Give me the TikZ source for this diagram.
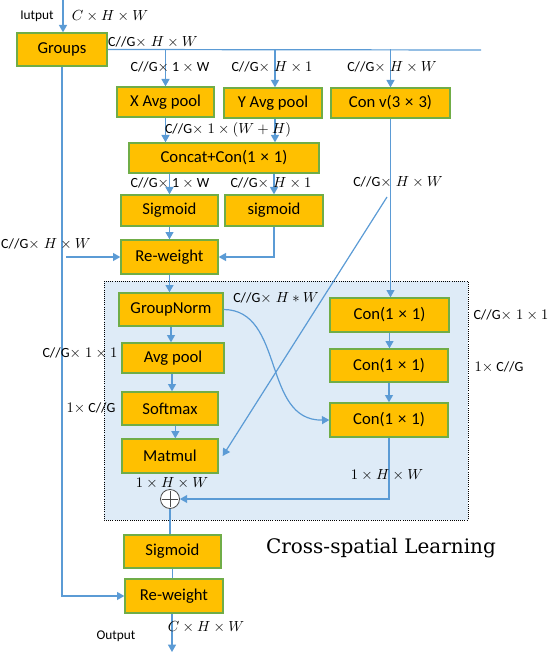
\documentclass[tikz,border=0pt]{standalone}
\usepackage{fontspec}
\newfontfamily\calb{Carlito}
\newfontfamily\titlefont{DejaVu Serif}
\usetikzlibrary{arrows.meta}
\definecolor{boxfill}{HTML}{FFC000}
\definecolor{boxline}{HTML}{70AD47}
\definecolor{wire}{HTML}{5B9BD5}
\definecolor{panel}{HTML}{DEEBF7}
\newcommand\xx{\hspace{0.3em}×\hspace{0.3em}}
\begin{document}
\begin{tikzpicture}[x=0.75pt,y=-0.75pt,
  box/.style={draw=boxline, line width=1pt, fill=boxfill, inner sep=0pt, font=\calb\fontsize{12.5}{14}\selectfont},
  lbl/.style={font=\calb\fontsize{10.5}{12}\selectfont, inner sep=0pt},
  io/.style={font=\calb\fontsize{10}{12}\selectfont, inner sep=0pt},
  wire/.style={draw=wire, line width=0.9pt},
  arr/.style={wire, -{Triangle[width=6pt,length=5.5pt]}}]
\useasboundingbox (0,0) rectangle (550,659);
% panel
\fill[panel] (104,281) rectangle (468,520);
\draw[densely dotted, line width=0.6pt] (104,281) rectangle (468,520);
% nodes
\node[box,minimum width=67.5pt,minimum height=24.75pt] (grp) at (62,49.5) {Groups};
\node[box,minimum width=72.75pt,minimum height=22.5pt] (xa) at (165.5,102) {X Avg pool};
\node[box,minimum width=73.5pt,minimum height=22.5pt] (ya) at (273,103) {Y Avg pool};
\node[box,minimum width=89.25pt,minimum height=22.5pt] (cv) at (390.5,103) {Con v(3\xx 3)};
\node[box,minimum width=142.5pt,minimum height=22.5pt] (cc) at (224,158) {Concat+Con(1\xx 1)};
\node[box,minimum width=72.75pt,minimum height=23.25pt] (sg1) at (169.5,210.5) {Sigmoid};
\node[box,minimum width=73.5pt,minimum height=23.25pt] (sg2) at (274,210.5) {sigmoid};
\node[box,minimum width=72.75pt,minimum height=25.5pt] (rw1) at (169.5,257) {Re-weight};
\node[box,minimum width=78pt,minimum height=24.75pt] (gn) at (171,309.5) {GroupNorm};
\node[box,minimum width=76.5pt,minimum height=22.5pt] (ap) at (173,358) {Avg pool};
\node[box,minimum width=72pt,minimum height=24.75pt] (sm) at (170,408.5) {Softmax};
\node[box,minimum width=72pt,minimum height=25.5pt] (mm) at (170,456) {Matmul};
\node[box,minimum width=89.25pt,minimum height=25.5pt] (c1) at (389.5,315) {Con(1\xx 1)};
\node[box,minimum width=88.5pt,minimum height=24.75pt] (c2) at (389,365.5) {Con(1\xx 1)};
\node[box,minimum width=88.5pt,minimum height=25.5pt] (c3) at (389,420) {Con(1\xx 1)};
\node[box,minimum width=72.75pt,minimum height=24.75pt] (sg3) at (172.5,551.5) {Sigmoid};
\node[box,minimum width=73.5pt,minimum height=25.5pt] (rw2) at (174,596) {Re-weight};
\node[circle, draw=black!70, fill=white, line width=0.6pt, minimum size=14.25pt, inner sep=0pt] (pl) at (170,499) {};
\draw[black!70, line width=0.6pt] ([xshift=1.2pt]pl.west) -- ([xshift=-1.2pt]pl.east) ([yshift=-1.2pt]pl.north) -- ([yshift=1.2pt]pl.south);
% coordinates
\coordinate (in) at (63,0);
\coordinate (lend) at (481,50);
\coordinate (lin) at (66,257);
\coordinate (d0) at (387,197);
\coordinate (out) at (172,652);
% wires
\draw[arr] (in) -- (in |- grp.north);
\draw[wire] (grp.east) -- (lend);
\draw[arr] (xa.north |- grp.east) -- (xa.north);
\draw[arr] ([xshift=1.5pt]ya.north |- grp.east) -- ([xshift=1.5pt]ya.north);
\draw[arr] (cv.north |- grp.east) -- (cv.north);
\draw[arr] (xa.south) -- (xa.south |- cc.north);
\draw[arr] ([xshift=1.5pt]ya.south) -- ([xshift=1.5pt]ya.south |- cc.north);
\draw[arr] (sg1.north |- cc.south) -- (sg1.north);
\draw[arr] (sg2.north |- cc.south) -- (sg2.north);
\draw[arr] (sg1.south) -- (rw1.north);
\draw[arr] (sg2.south) |- (rw1.east);
\draw[arr] (lin) -- (rw1.west);
\draw[arr] (rw1.south) -- (rw1.south |- gn.north);
\draw[arr] (gn.south) -- (gn.south |- ap.north);
\draw[arr] ([xshift=1.5pt]sm.north |- ap.south) -- ([xshift=1.5pt]sm.north);
\draw[arr] ([xshift=4pt]sm.south) -- ([xshift=4pt]sm.south |- mm.north);
\draw[arr] (cv.south) -- (cv.south |- c1.north);
\draw[arr] (c1.south) -- (c1.south |- c2.north);
\draw[arr] (c2.south) -- (c2.south |- c3.north);
\draw[arr] (gn.east) .. controls (285,310) and (262,421) .. (c3.west);
\draw[arr] (d0) -- ([xshift=3pt]mm.east);
\draw[arr] (c3.south) |- (pl.east);
\draw[wire] (pl.south) -- (pl.south |- sg3.north);
\draw[wire] (sg3.south) -- (sg3.south |- rw2.north);
\draw[arr] (grp.south) |- (rw2.west);
\draw[arr] (out |- rw2.south) -- (out);
% labels
\node[io] (lin1) at (37,16) {Iutput};
\node[lbl] (l1) at (110,16) {$C\times H\times W$};
\node[lbl] (l2) at (153,42) {C//G$\times\;H\times W$};
\node[lbl] (l3) at (170,67) {C//G$\times$ 1 $\times$ W};
\node[lbl] (l4) at (272,67) {C//G$\times\;H\times 1$};
\node[lbl] (l5) at (392,67) {C//G$\times\;H\times W$};
\node[lbl] (l6) at (228,130) {C//G$\times\;1\times (W+H)$};
\node[lbl] (l7) at (170,183) {C//G$\times$ 1 $\times$ W};
\node[lbl] (l8) at (271,183) {C//G$\times\;H\times 1$};
\node[lbl] (l9) at (398,182) {C//G$\times\;H\times W$};
\node[lbl] (l10) at (46,244) {C//G$\times\;H\times W$};
\node[lbl] (l11) at (276,298) {C//G$\times\;H\ast W$};
\node[lbl] (l12) at (511,315) {C//G$\times\;1\times 1$};
\node[lbl] (l13) at (499,367) {$1\times$ C//G};
\node[lbl] (l14) at (80,353) {C//G$\times\;1\times 1$};
\node[lbl] (l15) at (91,408) {$1\times$ C//G};
\node[lbl] (l16) at (172,483) {$1\times H\times W$};
\node[lbl] (l17) at (387,475) {$1\times H\times W$};
\node[io] (lout) at (116,636) {Output};
\node[lbl] (l18) at (206,627) {$C\times H\times W$};
\node[inner sep=0pt, font=\titlefont\fontsize{15}{18}\selectfont] (ttl) at (381,548) {Cross-spatial Learning};
\end{tikzpicture}
\end{document}
